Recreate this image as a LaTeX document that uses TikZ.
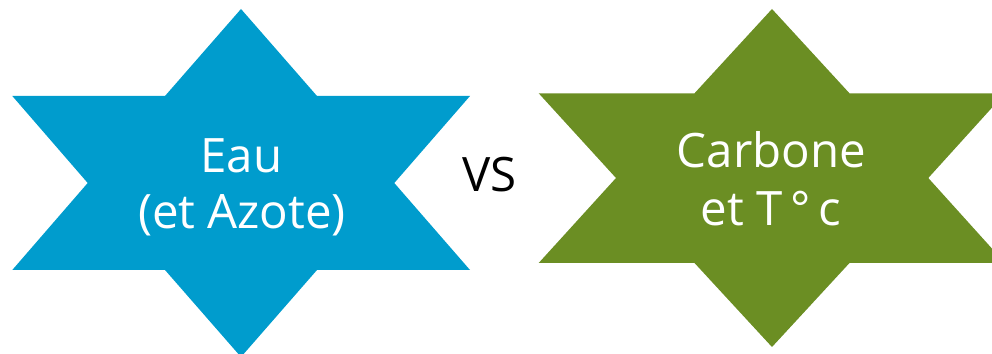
\documentclass[tikz,border=0pt]{standalone}
\usepackage{fontspec}
\setmainfont{Open Sans}
\definecolor{starblue}{HTML}{009CCD}
\definecolor{stargreen}{HTML}{6B8E23}
\begin{document}
\begin{tikzpicture}[x=0.02cm,y=-0.02cm,
  startext/.style={text=white,font=\fontsize{27}{32}\selectfont,anchor=base,inner sep=0pt},
  vstext/.style={text=black,font=\fontsize{27}{32}\selectfont,anchor=base,inner sep=0pt}]
\useasboundingbox (0,0) rectangle (992,354);
\clip (0,0) rectangle (992,354);
\fill[starblue] (241,9) -- (317,96) -- (470,96) -- (394.3,183) -- (470,270) -- (317,270) -- (241,357) -- (165,270) -- (12.3,270) -- (87.7,183) -- (12.3,96) -- (165,96) -- cycle;
\fill[stargreen] (772,9) -- (849.5,93.3) -- (1005,93.3) -- (928.3,178) -- (1005,263) -- (849.5,263) -- (772,347) -- (694.5,263) -- (538.7,263) -- (616,178) -- (538.7,93.3) -- (694.5,93.3) -- cycle;
\node[startext] (eau) at (241.5,173) {Eau};
\node[startext] (azote) at (242,229) {(et Azote)};
\node[startext] (carbone) at (771.5,168) {Carbone};
\node[startext] (temp) at (771,226) {et T\,°\,c};
\node[vstext] (vs) at (489.7,191.7) {VS};
\end{tikzpicture}
\end{document}
